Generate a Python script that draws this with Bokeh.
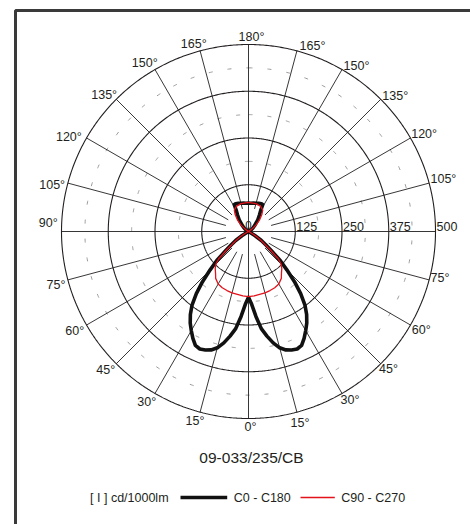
import numpy as np
from bokeh.plotting import figure
from bokeh.models import Range1d, ColumnDataSource
from bokeh.embed import file_html
from bokeh.resources import INLINE
from bokeh.core.properties import value

# ---------------- data ----------------
# angle from nadir (deg) and intensity (cd/1000lm); curves are symmetric
c0_angles = [0, 2.5, 5, 7.5, 10, 12.5, 15, 17.5, 20, 22.5, 25, 27.5, 30, 32.5, 35,
             37.5, 40, 42.5, 45, 47.5, 50, 52.5, 55, 57.5, 60, 62,
             120, 122, 128, 133.5, 141.5, 146.5, 150, 152, 155, 160, 165, 170, 175, 180]
c0_values = [176, 195, 228, 262, 284, 305, 322, 332, 337, 340, 336, 322, 306, 290, 271,
             248, 217, 182, 145, 115, 80, 58, 42, 20, 5, 0,
             0, 8, 15, 22, 40, 53, 66, 81, 82, 80, 78, 77, 76, 76]

c90_angles = [0, 5, 10, 15, 20, 25, 30, 35, 38, 42, 45, 47.5, 50, 52.5, 55, 57.5, 60, 63,
              120, 125, 131, 136, 141.5, 146.5, 155, 165, 180]
c90_values = [174, 173, 171, 170, 168, 166, 162, 153, 143, 133, 123, 108, 75, 52, 38, 26, 12, 0,
              0, 10, 27, 42, 57, 69, 75, 77, 78]

ring_values = [125, 250, 375, 500]
minor_ring_values = [187.5, 312.5, 437.5]
spoke_angles = list(range(0, 360, 15))
angle_labels_right = [0, 15, 30, 45, 60, 75, 105, 120, 135, 150, 165, 180]
angle_labels_left = [15, 30, 45, 60, 75, 90, 105, 120, 135, 150, 165]
title_text = "09-033/235/CB"
unit_text = "[ I ] cd/1000lm"
series_names = ["C0 - C180", "C90 - C270"]

# ---------------- layout ----------------
W, H = 470, 524
K = 187.0 / 500.0           # px per cd unit
CX, CY = 248, 231           # centre in canvas px
RMAX = 500
FONT = value("Liberation Sans")
INK = "#231f20"
RED = "#e3121b"

# label offsets in screen px (dx, dy) relative to end of spoke, text centred
off_right = [(2, 8.3), (3.1, 10.4), (8, 6.3), (7.8, 4.8), (10.8, 5.2), (10.9, -1.4),
             (14.3, -4.3), (13.7, -4.2), (14.5, -3.1), (14.5, -4), (15.6, -4.4), (3, -8)]
off_left = [(-5.1, 8.7), (-8.2, 8.3), (-10.5, 6.1), (-11.8, 5.8), (-11.9, 5.3), (-13.2, -8.3),
            (-15.7, 1.7), (-17.7, -0.8), (-12.1, -3.8), (-10.2, -6.3), (-6.3, -7.1)]


def sx(px):   # canvas px -> data x
    return (px - CX) / K


def sy(py):   # canvas px -> data y
    return (CY - py) / K


p = figure(width=W, height=H, output_backend="svg", toolbar_location=None,
           x_range=Range1d(-CX / K, (W - CX) / K), y_range=Range1d(-(H - CY) / K, CY / K),
           x_axis_type=None, y_axis_type=None, min_border=0, outline_line_color=None,
           background_fill_color="white", border_fill_color="white")
p.grid.visible = False

# border (left and top edges of a frame)
p.line([sx(15), sx(15), sx(490)], [sy(540), sy(10), sy(10)], line_color="#3a3a3a", line_width=3)

# dashed minor rings
for r in minor_ring_values:
    t = np.linspace(0, 2 * np.pi, 721)
    p.line(r * np.sin(t), r * np.cos(t), line_color="#9a9a9a", line_width=1, line_dash="4 15")

# spokes
sa = np.radians(spoke_angles)
inner = np.array([0 if a % 90 == 0 else 62.5 for a in spoke_angles])
p.segment(x0=inner * np.sin(sa), y0=-inner * np.cos(sa),
          x1=RMAX * np.sin(sa), y1=-RMAX * np.cos(sa), line_color=INK, line_width=0.9)

# rings
for r in ring_values:
    t = np.linspace(0, 2 * np.pi, 721)
    p.line(r * np.sin(t), r * np.cos(t), line_color=INK, line_width=1.1)


def curve(angles, values):
    a = np.array(angles, dtype=float)
    v = np.array(values, dtype=float)
    full_a = np.concatenate([-a[::-1], a[1:]])
    full_v = np.concatenate([v[::-1], v[1:]])
    t = np.radians(full_a)
    return full_v * np.sin(t), -full_v * np.cos(t)


x90, y90 = curve(c90_angles, c90_values)
x0, y0 = curve(c0_angles, c0_values)
p.line(x0, y0, line_color="#111111", line_width=3.6, line_join="round", line_cap="round")
p.line(x90, y90, line_color=RED, line_width=1.3, line_join="round")

# angle labels
lx, ly, lt, ox, oy = [], [], [], [], []
for a, (dx, dy) in zip(angle_labels_right, off_right):
    t = np.radians(a)
    lx.append(RMAX * np.sin(t)); ly.append(-RMAX * np.cos(t))
    lt.append(f"{a}°"); ox.append(dx); oy.append(dy)
for a, (dx, dy) in zip(angle_labels_left, off_left):
    t = np.radians(a)
    lx.append(-RMAX * np.sin(t)); ly.append(-RMAX * np.cos(t))
    lt.append(f"{a}°"); ox.append(dx); oy.append(dy)
src = ColumnDataSource(dict(x=lx, y=ly, text=lt, ox=ox, oy=oy))
p.text(x="x", y="y", text="text", x_offset="ox", y_offset="oy", source=src,
       text_font=FONT, text_font_size="12.5px", text_color=INK,
       text_align="center", text_baseline="middle")

# radial value labels
p.text(x=ring_values, y=[0] * len(ring_values), text=[str(v) for v in ring_values],
       x_offset=1, y_offset=-1, text_font=FONT, text_font_size="12.5px", text_color=INK,
       text_align="left", text_baseline="bottom")
p.text(x=[0], y=[0], text=["0"], x_offset=0, y_offset=-3, text_font=FONT,
       text_font_size="11.5px", text_color=INK, text_align="center", text_baseline="bottom")

# title
p.text(x=[sx(251)], y=[sy(457)], text=[title_text], text_font=FONT, text_font_size="15.5px",
       text_color=INK, text_align="center", text_baseline="middle")

# legend row
p.text(x=[sx(128.8)], y=[sy(497)], text=[unit_text], text_font=FONT, text_font_size="12.5px",
       text_color=INK, text_align="center", text_baseline="middle")
p.line([sx(180), sx(226.7)], [sy(497), sy(497)], line_color="#111111", line_width=3.5)
p.text(x=[sx(233.3)], y=[sy(497)], text=[series_names[0]], text_font=FONT,
       text_font_size="12.5px", text_color=INK, text_align="left", text_baseline="middle")
p.line([sx(300), sx(334.3)], [sy(497), sy(497)], line_color=RED, line_width=1.5)
p.text(x=[sx(340.7)], y=[sy(497)], text=[series_names[1]], text_font=FONT,
       text_font_size="12.5px", text_color=INK, text_align="left", text_baseline="middle")

open("out.html", "w").write(file_html(p, INLINE))
